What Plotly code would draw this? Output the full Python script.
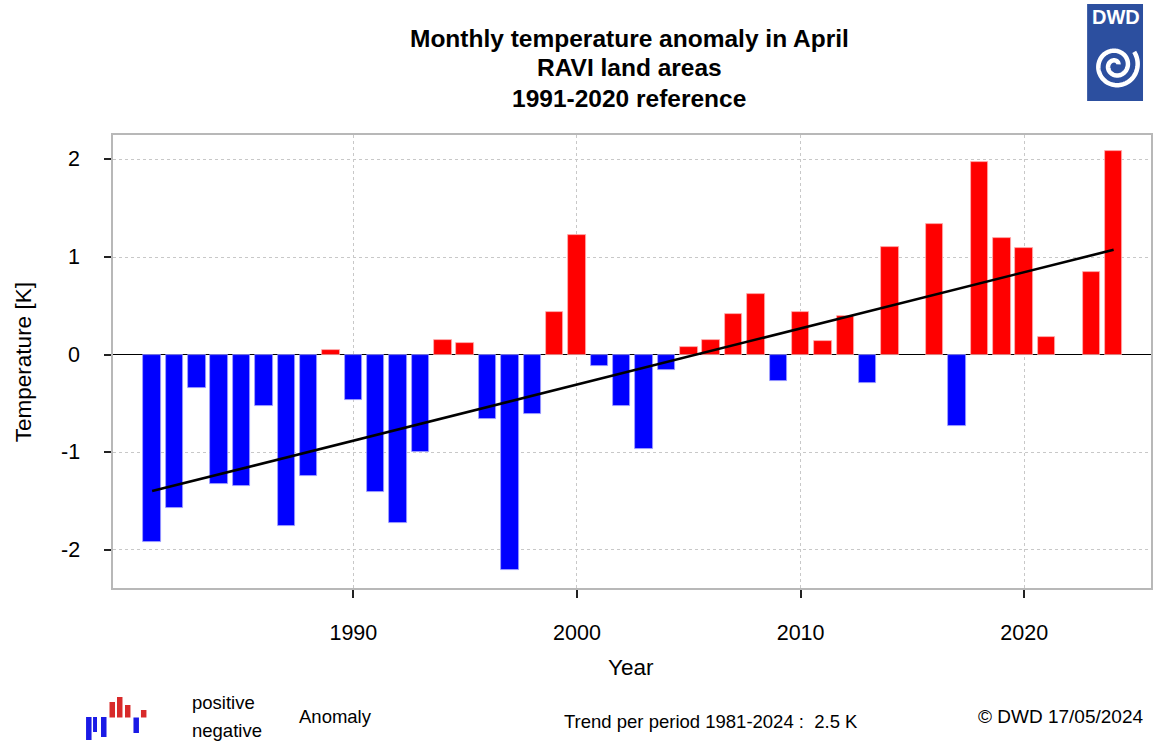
import numpy as np
import plotly.graph_objects as go

# April temperature anomalies (K), RAVI land areas, 1991-2020 reference
years = list(range(1981, 2025))
anomaly = [
    -1.92, -1.57, -0.34, -1.32, -1.35, -0.53, -1.76, -1.24, 0.05, -0.46,
    -1.41, -1.72, -1.00, 0.15, 0.12, -0.66, -2.21, -0.61, 0.44, 1.23,
    -0.12, -0.53, -0.97, -0.16, 0.08, 0.15, 0.42, 0.62, -0.27, 0.44,
    0.14, 0.40, -0.29, 1.10, 0.00, 1.34, -0.73, 1.97, 1.20, 1.09,
    0.18, 0.00, 0.85, 2.09,
]
x_ticks = [1990, 2000, 2010, 2020]
y_ticks = [-2, -1, 0, 1, 2]
y_ticktext = ["-2", "-1", "0", "1", "2"]

title_lines = ["Monthly temperature anomaly in April", "RAVI land areas", "1991-2020 reference"]
trend_text = "Trend per period 1981-2024 :  2.5 K"
credit_text = "\u00a9 DWD 17/05/2024"

FONT = "Liberation Sans, Arial, sans-serif"
W, H = 1154, 742
L, R, T, B = 113, 1, 135, 154
PW = W - L - R
PH = H - T - B


def px(x):
    return (x - L) / PW


def py(y):
    return (H - B - y) / PH


# linear trend over the whole period
coef = np.polyfit(years, anomaly, 1)
trend = np.polyval(coef, years)

pos_col, neg_col = "#ff0000", "#0000ff"
colors = [pos_col if v >= 0 else neg_col for v in anomaly]
edges = ["#ffb0b0" if v > 0 else ("#a0a0ff" if v < 0 else "rgba(0,0,0,0)") for v in anomaly]

fig = go.Figure()
fig.add_trace(go.Bar(
    x=years, y=anomaly, width=0.78,
    marker=dict(color=colors, line=dict(color=edges, width=0.8)),
    hoverinfo="x+y", showlegend=False,
))
fig.add_trace(go.Scatter(
    x=years, y=trend, mode="lines",
    line=dict(color="black", width=2.6), showlegend=False,
))

axis_common = dict(
    showgrid=True, gridcolor="#c8c8c8", griddash="dot", gridwidth=1,
    showline=True, linecolor="#b8b8b8", linewidth=1.5, mirror=True,
    ticks="outside", tickcolor="#222222", tickwidth=1.5,
    tickfont=dict(family=FONT, size=21.5, color="#000000"),
)

fig.update_layout(
    width=W, height=H,
    margin=dict(l=L, r=R, t=T, b=B),
    paper_bgcolor="white", plot_bgcolor="white",
    bargap=0,
    xaxis=dict(
        range=[1979.25, 2025.67], tickvals=x_ticks, ticklen=8,
        zeroline=False, ticklabelstandoff=16, **axis_common,
    ),
    yaxis=dict(
        range=[-2.39, 2.25], tickvals=y_ticks, ticklen=7,
        showticklabels=False,
        zeroline=True, zerolinecolor="#000000", zerolinewidth=1.3,
        **axis_common,
    ),
)

annotations = []
# y tick labels, set well apart from the tick marks
for v, t in zip(y_ticks, y_ticktext):
    annotations.append(dict(
        text=t, x=px(82), y=v, xref="paper", yref="y",
        xanchor="right", yanchor="middle", showarrow=False,
        font=dict(family=FONT, size=21.5, color="#000000"),
    ))
# three-line heading
for i, line in enumerate(title_lines):
    annotations.append(dict(
        text="<b>" + line + "</b>", x=px(630), y=py(38 + 30 * i),
        xref="paper", yref="paper", xanchor="center", yanchor="middle",
        showarrow=False, font=dict(family=FONT, size=24.5, color="#000000"),
    ))
# axis titles
annotations.append(dict(
    text="Year", x=px(632), y=py(667), xref="paper", yref="paper",
    xanchor="center", yanchor="middle", showarrow=False,
    font=dict(family=FONT, size=22.5, color="#000000"),
))
annotations.append(dict(
    text="Temperature [K]", x=px(23), y=py(362), xref="paper", yref="paper",
    xanchor="center", yanchor="middle", textangle=-90, showarrow=False,
    font=dict(family=FONT, size=22.5, color="#000000"),
))
# footer texts
footer = [
    ("positive", 190, 702, 18.5),
    ("negative", 190, 730, 18.5),
    ("Anomaly", 297, 716, 18.5),
    (trend_text, 563, 721, 18.5),
    (credit_text, 978, 716, 19),
]
for txt, x0, y0, fs in footer:
    annotations.append(dict(
        text=txt, x=px(x0), y=py(y0), xref="paper", yref="paper",
        xanchor="left", yanchor="middle", showarrow=False,
        font=dict(family=FONT, size=fs, color="#000000"),
    ))
# DWD logo lettering
annotations.append(dict(
    text="<b>DWD</b>", x=px(1117.5), y=py(17), xref="paper", yref="paper",
    xanchor="center", yanchor="middle", showarrow=False,
    font=dict(family=FONT, size=20, color="#ffffff"),
))
fig.update_layout(annotations=annotations)

shapes = []
# small legend icon for positive/negative bars
icon_bars = [
    (86, 91.5, 717, 740, "#1a1ae6"),
    (93, 97, 717, 732, "#1a1ae6"),
    (101, 106.5, 717, 737, "#1a1ae6"),
    (109.5, 115, 702, 717.5, "#d82a2a"),
    (117, 122.5, 697, 717.5, "#d82a2a"),
    (125, 130.5, 705, 717.5, "#d82a2a"),
    (133.5, 139, 717.5, 733, "#1a1ae6"),
    (141, 146.5, 710, 717.5, "#d82a2a"),
]
for x0, x1, y0, y1, c in icon_bars:
    shapes.append(dict(
        type="rect", xref="paper", yref="paper",
        x0=px(x0), x1=px(x1), y0=py(y1), y1=py(y0),
        fillcolor=c, line=dict(width=0), layer="above",
    ))

# DWD logo: blue box with white spiral
shapes.append(dict(
    type="rect", xref="paper", yref="paper",
    x0=px(1089), x1=px(1145), y0=py(101), y1=py(4),
    fillcolor="#2c4f9f", line=dict(width=0), layer="above",
))
cx, cy = 1117.5, 65.5
theta = np.linspace(0.4, 2.1 * 2 * np.pi, 200)
rad = 2.5 + 9.8 * theta / (2 * np.pi)
sx = cx + rad * np.cos(theta)
sy = cy - rad * np.sin(theta)
path = "M " + " L ".join(f"{px(a):.5f},{py(b):.5f}" for a, b in zip(sx, sy))
shapes.append(dict(
    type="path", xref="paper", yref="paper", path=path,
    line=dict(color="white", width=4.5), layer="above",
))
fig.update_layout(shapes=shapes)

fig.write_html("out.html")
